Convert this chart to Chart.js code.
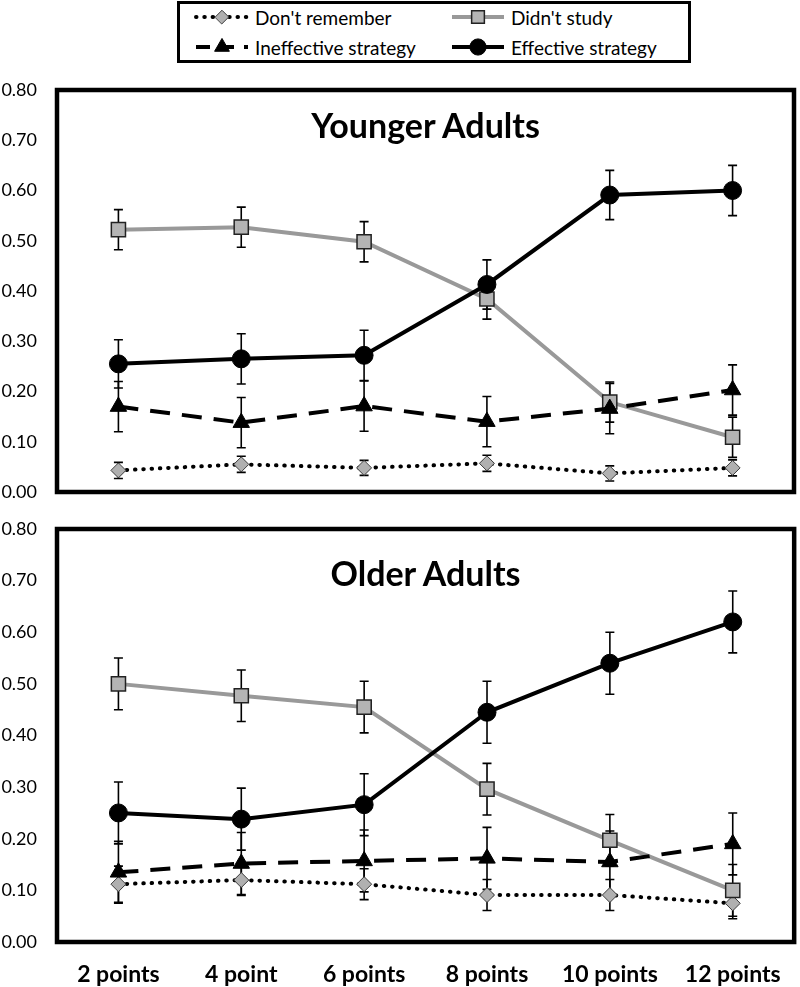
<!DOCTYPE html>
<html>
<head>
<meta charset="utf-8">
<script src="https://cdn.jsdelivr.net/npm/chart.js@4.4.1/dist/chart.umd.min.js"></script>
<style>
    body { margin: 0; background: #fff; width: 800px; height: 987px; position: relative; overflow: hidden; font-family: Lato, sans-serif; }
    #leyenda { position: absolute; left: 177px; top: 1px; width: 514px; height: 62px; box-sizing: border-box; border: 3.5px solid #000; }
    .item { position: absolute; height: 30px; display: flex; align-items: center; font-size: 19px; color: #000; white-space: nowrap; }
    .item canvas { margin-right: 4px; }
    .titulo { position: absolute; left: 57px; width: 737px; text-align: center; font-weight: bold; font-size: 34px; line-height: 34px; color: #000; }
    canvas.grafico { position: absolute; left: 0; }
</style>
</head>
<body>
<div id="leyenda"></div>
<canvas id="graficoJovenes" class="grafico" width="800" height="424" style="top:79px"></canvas>
<canvas id="graficoMayores" class="grafico" width="800" height="477" style="top:510px"></canvas>
<div class="titulo" style="top:108px">Younger Adults</div>
<div class="titulo" style="top:556px">Older Adults</div>

<script>
// Categorías del eje X y nombres de las series
const categorias = ['2 points', '4 point', '6 points', '8 points', '10 points', '12 points'];
const nombresSeries = ["Don't remember", "Didn't study", 'Ineffective strategy', 'Effective strategy'];

// Eje Y: 0.00 a 0.80 cada 0.10
const ejeMin = 0;
const ejeMax = 0.8;
const ejePaso = 0.1;

// Adultos jóvenes (valores y error estándar)
const jovNoRecuerda = [0.043, 0.055, 0.048, 0.057, 0.037, 0.048];
const jovNoRecuerdaErr = [0.016, 0.016, 0.015, 0.016, 0.015, 0.016];
const jovNoEstudio = [0.522, 0.527, 0.498, 0.384, 0.179, 0.109];
const jovNoEstudioErr = [0.04, 0.04, 0.04, 0.04, 0.04, 0.04];
const jovInefectiva = [0.170, 0.138, 0.171, 0.140, 0.166, 0.203];
const jovInefectivaErr = [0.05, 0.05, 0.05, 0.05, 0.05, 0.05];
const jovEfectiva = [0.255, 0.265, 0.272, 0.413, 0.591, 0.600];
const jovEfectivaErr = [0.048, 0.05, 0.05, 0.049, 0.049, 0.05];

// Adultos mayores
const mayNoRecuerda = [0.112, 0.120, 0.112, 0.091, 0.091, 0.075];
const mayNoRecuerdaErr = [0.035, 0.03, 0.03, 0.03, 0.03, 0.03];
const mayNoEstudio = [0.500, 0.477, 0.455, 0.296, 0.197, 0.100];
const mayNoEstudioErr = [0.05, 0.05, 0.05, 0.05, 0.05, 0.05];
const mayInefectiva = [0.135, 0.152, 0.157, 0.162, 0.155, 0.190];
const mayInefectivaErr = [0.06, 0.06, 0.06, 0.06, 0.06, 0.06];
const mayEfectiva = [0.250, 0.238, 0.266, 0.445, 0.540, 0.620];
const mayEfectivaErr = [0.06, 0.06, 0.06, 0.06, 0.06, 0.06];

// Estilo de cada serie (mismo orden que nombresSeries)
const estilos = [
    { color: '#000', ancho: 4, guion: [0.5, 7.8], remate: 'round', punto: 'rectRot', radio: 7.5, relleno: '#b0b0b0', borde: '#3a3a3a', bordeAncho: 1, orden: 3 },
    { color: '#999', ancho: 4, guion: [], remate: 'butt', punto: 'rect', radio: 10, relleno: '#b4b4b4', borde: '#222', bordeAncho: 1.5, orden: 2 },
    { color: '#000', ancho: 4, guion: [20, 12], remate: 'butt', punto: 'triangle', radio: 9.5, relleno: '#000', borde: '#000', bordeAncho: 1, orden: 1 },
    { color: '#000', ancho: 4, guion: [], remate: 'butt', punto: 'circle', radio: 9, relleno: '#000', borde: '#000', bordeAncho: 1, orden: 0 }
];

// Barras de error dibujadas con la escala Y del propio gráfico
const barrasError = {
    id: 'barrasError',
    beforeDatasetsDraw(chart) {
        const ctx = chart.ctx;
        const escalaY = chart.scales.y;
        ctx.save();
        ctx.strokeStyle = '#000';
        ctx.lineWidth = 1.6;
        chart.data.datasets.forEach((ds, i) => {
            const meta = chart.getDatasetMeta(i);
            meta.data.forEach((pt, j) => {
                const arriba = escalaY.getPixelForValue(ds.data[j] + ds.errores[j]);
                const abajo = escalaY.getPixelForValue(ds.data[j] - ds.errores[j]);
                ctx.beginPath();
                ctx.moveTo(pt.x, arriba); ctx.lineTo(pt.x, abajo);
                ctx.moveTo(pt.x - 4.5, arriba); ctx.lineTo(pt.x + 4.5, arriba);
                ctx.moveTo(pt.x - 4.5, abajo); ctx.lineTo(pt.x + 4.5, abajo);
                ctx.stroke();
            });
        });
        ctx.restore();
    }
};

// Marco negro alrededor del área del gráfico
const marco = {
    id: 'marco',
    afterDraw(chart) {
        const { left, top, right, bottom } = chart.chartArea;
        const ctx = chart.ctx;
        ctx.save();
        ctx.lineWidth = 4.5;
        ctx.strokeStyle = '#000';
        ctx.strokeRect(left, top, right - left, bottom - top);
        ctx.restore();
    }
};

function crearGrafico(idCanvas, series, errores, conEtiquetas, altoEjeX, margenArriba, margenDerecha) {
    const ctx = document.getElementById(idCanvas).getContext('2d');

    const datasets = series.map((valores, i) => {
        const e = estilos[i];
        return {
            label: nombresSeries[i],
            data: valores,
            errores: errores[i],
            order: e.orden,
            borderColor: e.color,
            borderWidth: e.ancho,
            borderDash: e.guion,
            borderCapStyle: e.remate,
            pointStyle: e.punto,
            pointRadius: e.radio,
            pointHoverRadius: e.radio,
            pointBackgroundColor: e.relleno,
            pointBorderColor: e.borde,
            pointBorderWidth: e.bordeAncho,
            tension: 0,
            fill: false
        };
    });

    return new Chart(ctx, {
        type: 'line',
        data: { labels: categorias, datasets: datasets },
        options: {
            responsive: false,
            animation: false,
            events: [],
            layout: { autoPadding: false, padding: { top: margenArriba, right: margenDerecha, left: 0, bottom: 0 } },
            scales: {
                x: {
                    offset: true,
                    grid: { display: false, drawTicks: false },
                    border: { display: false },
                    ticks: {
                        display: conEtiquetas,
                        color: '#000',
                        padding: 19,
                        maxRotation: 0,
                        font: { family: 'Lato', size: 23, weight: 'bold' }
                    },
                    afterFit: (escala) => { escala.height = altoEjeX; }
                },
                y: {
                    min: ejeMin,
                    max: ejeMax,
                    // la separación de las etiquetas va en tickLength para no agrandar el margen vertical
                    grid: { display: false, drawTicks: true, tickLength: 20 },
                    border: { display: false },
                    ticks: {
                        stepSize: ejePaso,
                        color: '#000',
                        padding: 0,
                        font: { family: 'Lato', size: 18 },
                        callback: (v) => Number(v).toFixed(2)
                    },
                    afterFit: (escala) => { escala.width = 57; }
                }
            },
            plugins: {
                legend: { display: false },
                tooltip: { enabled: false }
            }
        },
        plugins: [barrasError, marco]
    });
}

// Leyenda común en HTML con símbolos dibujados por Chart.js
function crearLeyenda() {
    const leyenda = document.getElementById('leyenda');
    const posiciones = [
        { left: 13, top: -2 }, { left: 269, top: -2 },
        { left: 13, top: 28 }, { left: 269, top: 28 }
    ];
    nombresSeries.forEach((nombre, i) => {
        const e = estilos[i];
        const item = document.createElement('div');
        item.className = 'item';
        item.style.left = posiciones[i].left + 'px';
        item.style.top = posiciones[i].top + 'px';

        const simbolo = document.createElement('canvas');
        simbolo.width = 58;
        simbolo.height = 30;
        const c = simbolo.getContext('2d');
        c.strokeStyle = e.color;
        c.lineWidth = e.ancho;
        c.lineCap = e.remate;
        c.setLineDash(e.guion.length ? (i === 2 ? [14, 10] : e.guion) : []);
        c.beginPath();
        c.moveTo(3, 15);
        c.lineTo(55, 15);
        c.stroke();
        c.setLineDash([]);
        c.fillStyle = e.relleno;
        c.strokeStyle = e.borde;
        c.lineWidth = e.bordeAncho;
        Chart.helpers.drawPoint(c, { pointStyle: e.punto, radius: e.radio * 0.9, rotation: 0, borderWidth: e.bordeAncho }, 29, 15);

        const texto = document.createElement('span');
        texto.textContent = nombre;
        item.appendChild(simbolo);
        item.appendChild(texto);
        leyenda.appendChild(item);
    });
}

document.addEventListener('DOMContentLoaded', () => {
    crearLeyenda();
    crearGrafico('graficoJovenes',
        [jovNoRecuerda, jovNoEstudio, jovInefectiva, jovEfectiva],
        [jovNoRecuerdaErr, jovNoEstudioErr, jovInefectivaErr, jovEfectivaErr],
        false, 11, 11, 6);
    crearGrafico('graficoMayores',
        [mayNoRecuerda, mayNoEstudio, mayInefectiva, mayEfectiva],
        [mayNoRecuerdaErr, mayNoEstudioErr, mayInefectivaErr, mayEfectivaErr],
        true, 45, 19, 4);
});
</script>
</body>
</html>
